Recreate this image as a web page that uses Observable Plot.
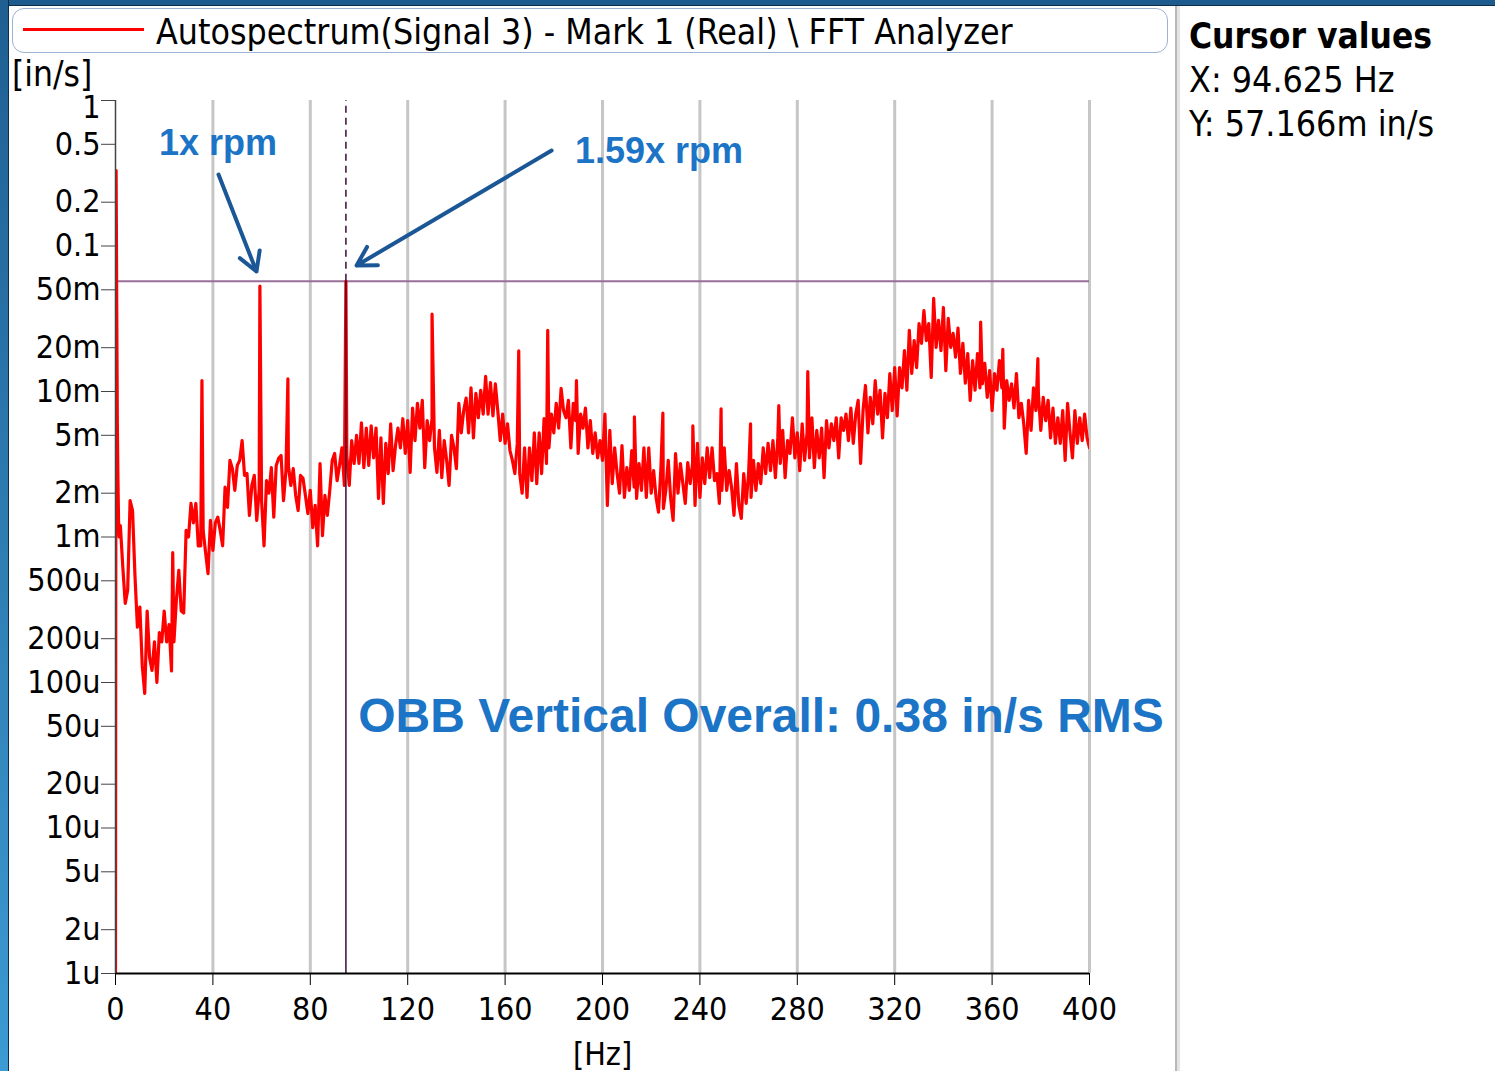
<!DOCTYPE html>
<html><head><meta charset="utf-8">
<script src="https://cdn.jsdelivr.net/npm/d3@7"></script>
<script src="https://cdn.jsdelivr.net/npm/@observablehq/plot@0.6"></script>
<style>
html,body{margin:0;padding:0;background:#fff;}
#page{position:relative;width:1495px;height:1071px;overflow:hidden;background:#fff;font-family:'DejaVu Sans Condensed','DejaVu Sans',sans-serif;font-stretch:condensed;color:#000;}
#chart{position:absolute;left:0;top:0;}
#topbar{position:absolute;left:0;top:0;width:1495px;height:5px;background:#1c5b8b;border-bottom:1px solid #0d2e4a;}
#leftbar{position:absolute;left:0;top:0;width:8px;height:1071px;background:linear-gradient(#1f5f92,#3d9ad2);border-right:1px solid #0d2e4a;}
#legend{position:absolute;left:12px;top:8px;width:1154px;height:43px;border:1px solid #9db3d3;border-radius:12px;background:#fff;}
#swatch{position:absolute;left:10px;top:19px;width:121px;height:3px;background:#ff0000;}
#ltext{position:absolute;left:143px;top:0px;font-size:35.4px;line-height:46px;white-space:pre;}
#sep1{position:absolute;left:1175px;top:6px;width:2px;height:1065px;background:#b8b8b8;}
#sep2{position:absolute;left:1177px;top:6px;width:3px;height:1065px;background:#e4e4e4;}
#cursor{position:absolute;left:1189px;top:14px;font-size:35.5px;line-height:44px;white-space:pre;}
#cursor .h{font-weight:bold;font-size:35px;}
#ylab{position:absolute;left:12px;top:62px;font-size:35px;line-height:24px;}
</style></head><body>
<div id="page">
  <div id="chart"></div>
  <div id="topbar"></div>
  <div id="leftbar"></div>
  <div id="legend"><div id="swatch"></div><div id="ltext">Autospectrum(Signal 3) - Mark 1 (Real) \ FFT Analyzer</div></div>
  <div id="sep1"></div><div id="sep2"></div>
  <div id="cursor"><div class="h">Cursor values</div><div>X: 94.625 Hz</div><div>Y: 57.166m in/s</div></div>
  <div id="ylab">[in/s]</div>
</div>
<script>
const xTicks = [0, 40, 80, 120, 160, 200, 240, 280, 320, 360, 400];
const yTicks = [1, 0.5, 0.2, 0.1, 0.05, 0.02, 0.01, 0.005, 0.002, 0.001, 5e-4, 2e-4, 1e-4, 5e-5, 2e-5, 1e-5, 5e-6, 2e-6, 1e-6];
const yTickLabels = ["1", "0.5", "0.2", "0.1", "50m", "20m", "10m", "5m", "2m", "1m", "500u", "200u", "100u", "50u", "20u", "10u", "5u", "2u", "1u"];

// DC region (Hz) and amplitude in milli in/s
const lowFreq = [0, 0.25, 0.5, 0.75, 1.0, 1.25, 1.5, 1.75];
const lowMilli = [0.001, 330, 40, 6, 2.5, 1.3, 1.0, 1.2];

// Spectrum bins from 2 Hz to 400 Hz, 1 Hz apart, milli in/s
const binStart = 2, binStep = 1;
const spectrumMilli = [
  1.20, 0.62, 0.35, 0.43, 1.78, 1.52, 0.54, 0.24, 0.33, 0.13,
  0.084, 0.31, 0.148, 0.121, 0.19, 0.10, 0.22, 0.19, 0.31, 0.19,
  0.25, 0.12, 0.19, 0.37, 0.59, 0.31, 0.30, 1.11, 1.0, 1.7,
  1.25, 1.7, 0.87, 0.87, 1.11, 0.78, 0.56, 1.30, 0.81, 1.25,
  1.37, 1.11, 0.87, 2.2, 1.6, 3.36, 2.95, 2.09, 3.10, 3.36,
  4.6, 2.65, 2.73, 1.41, 2.26, 2.65, 1.30, 2.09, 1.78, 0.87,
  2.44, 2.0, 3.0, 1.37, 3.10, 3.47, 3.63, 1.78, 2.86, 3.10,
  2.26, 2.95, 1.93, 1.52, 2.65, 2.53, 1.93, 1.45, 2.09, 1.16,
  1.65, 0.87, 3.2, 1.02, 1.93, 1.41, 2.09, 3.36, 3.75, 2.44,
  3.10, 4.1, 2.26, 3.63, 2.26, 4.6, 3.2, 5.0, 3.2, 6.1,
  3.0, 5.6, 3.10, 5.8, 3.5, 5.6, 1.84, 4.8, 1.70, 4.4,
  2.73, 6.0, 2.86, 4.25, 5.6, 4.1, 6.5, 3.75, 6.3, 2.78,
  7.7, 4.6, 8.3, 5.6, 8.7, 3.0, 6.3, 4.6, 6.5, 4.1,
  2.78, 5.4, 2.56, 4.6, 3.36, 2.26, 5.0, 4.1, 2.95, 8.3,
  5.2, 7.4, 9.0, 5.2, 10.6, 4.8, 9.7, 6.6, 10.2, 7.0,
  12.7, 7.0, 11.5, 6.8, 11.3, 7.4, 4.6, 7.0, 4.4, 6.0,
  3.93, 3.36, 2.73, 4.4, 2.73, 2.0, 4.1, 1.87, 4.1, 2.44,
  5.2, 2.33, 5.2, 2.73, 6.5, 3.2, 4.1, 7.0, 5.2, 8.3,
  5.6, 10.5, 7.4, 6.6, 8.7, 4.1, 8.3, 6.3, 3.75, 7.0,
  5.6, 7.7, 4.1, 6.3, 3.75, 5.2, 3.5, 4.6, 3.36, 7.0,
  1.65, 5.4, 2.33, 4.1, 2.73, 2.0, 4.25, 1.87, 3.0, 2.09,
  3.93, 2.2, 1.84, 3.2, 2.09, 4.1, 1.87, 4.1, 2.0, 2.86,
  1.87, 1.48, 3.0, 1.57, 2.09, 3.36, 1.84, 1.30, 3.75, 2.0,
  3.2, 2.33, 1.70, 3.25, 2.33, 3.2, 1.65, 4.4, 1.87, 3.5,
  2.33, 4.1, 2.56, 4.1, 2.44, 2.73, 1.70, 2.09, 4.1, 2.09,
  2.86, 2.2, 1.41, 3.2, 1.65, 1.34, 2.73, 1.70, 2.73, 1.87,
  3.36, 2.09, 3.2, 2.33, 4.1, 2.73, 4.4, 2.86, 4.6, 2.56,
  4.8, 3.2, 5.4, 2.56, 4.6, 3.75, 6.6, 3.5, 5.2, 2.86,
  6.0, 3.36, 5.2, 3.5, 6.6, 3.0, 5.4, 3.5, 5.6, 2.56,
  6.3, 4.1, 6.0, 4.6, 6.6, 3.5, 6.6, 5.4, 7.0, 4.6,
  7.7, 4.4, 7.0, 8.7, 3.2, 7.4, 11.0, 5.2, 9.1, 6.0,
  11.9, 7.0, 10.2, 4.8, 9.7, 6.6, 13.3, 7.4, 14.6, 6.8,
  14.6, 10.6, 19.1, 10.2, 26.3, 13.3, 22.4, 14.6, 29.3, 21.4,
  36.0, 22.4, 29.3, 12.5, 43.6, 20.1, 30.8, 19.1, 37.8, 13.9,
  31.8, 20.1, 25.1, 17.2, 27.3, 13.3, 21.4, 11.4, 18.2, 8.7,
  16.3, 10.2, 18.2, 10.6, 11.3, 15.6, 9.1, 13.9, 7.4, 13.3,
  10.2, 16.3, 10.6, 5.6, 11.9, 8.7, 11.3, 7.7, 13.3, 6.6,
  8.3, 6.0, 3.75, 8.7, 5.4, 10.6, 7.4, 9.7, 5.4, 9.1,
  6.3, 8.7, 4.8, 7.7, 4.4, 6.6, 4.4, 7.4, 3.36, 8.3,
  5.2, 3.5, 7.4, 4.4, 6.6, 4.6, 7.0, 4.8, 4.1
];

// Narrow tonal peaks (Hz) and amplitude in milli in/s
const peakFreq = [23.5, 35.5, 59.3, 70.8, 94.625, 130.0, 165.6, 177.5, 189.3, 213.1, 224.8, 237.1, 248.7, 260.8, 272.4, 284.3, 355.3, 364.4, 378.8];
const peakMilli = [0.78, 11.9, 53, 12.2, 57.166, 34, 19, 26.3, 11.9, 6.7, 7.1, 5.8, 7.6, 6.0, 8.0, 13.7, 30, 19.5, 16.8];

// Cursor
const cursorX = 94.625;
const cursorY = 0.057166;

// Annotations (anchored in data units)
const noteText = ["1x rpm", "1.59x rpm"];
const noteFreq = [42.1, 223.2];
const noteVal = [0.506, 0.446];
const bigNote = "OBB Vertical Overall: 0.38 in/s RMS";
const bigNoteFreq = 265.1;
const bigNoteVal = 5.84e-5;
const arrowFromF = [42.3, 179.1];
const arrowFromV = [0.31, 0.453];
const arrowToF = [57.9, 99.0];
const arrowToV = [0.0668, 0.0734];

const pts = [];
lowFreq.forEach((f, i) => pts.push({f, v: lowMilli[i] / 1000}));
spectrumMilli.forEach((m, i) => pts.push({f: binStart + i * binStep, v: m / 1000}));
peakFreq.forEach((f, i) => pts.push({f, v: peakMilli[i] / 1000}));
pts.sort((a, b) => a.f - b.f);

const fmtY = (v) => yTickLabels[yTicks.indexOf(v)];
const notes = noteText.map((t, i) => ({t, f: noteFreq[i], v: noteVal[i]}));
const arrows = arrowFromF.map((f, i) => ({f1: f, v1: arrowFromV[i], f2: arrowToF[i], v2: arrowToV[i]}));
const annFont = "'Liberation Sans', Arial, sans-serif";
const annColor = "#1c74c6";

const chart = Plot.plot({
  width: 1175,
  height: 1071,
  marginLeft: 115,
  marginRight: 86,
  marginTop: 100,
  marginBottom: 98,
  style: {fontFamily: "'DejaVu Sans Condensed','DejaVu Sans',sans-serif", fontStretch: "condensed", fontSize: "32px", color: "#000", background: "transparent", overflow: "visible", maxWidth: "none"},
  x: {domain: [0, 400]},
  y: {type: "log", domain: [1e-6, 1]},
  marks: [
    Plot.ruleX(xTicks.slice(1), {stroke: "#c6c6c6", strokeWidth: 3}),
    Plot.ruleY([cursorY], {x1: 0, x2: 400, stroke: "#9a6e9a", strokeWidth: 2}),
    Plot.line(pts, {x: "f", y: "v", stroke: "#ff0000", strokeWidth: 3.2, clip: true}),
    Plot.ruleX([cursorX], {y1: 1e-6, y2: cursorY, stroke: "#3a0c3a", strokeWidth: 1.5}),
    Plot.ruleX([cursorX], {y1: cursorY, y2: 1, stroke: "#3a0c3a", strokeWidth: 1.5, strokeDasharray: "7,5"}),
    Plot.ruleY([1e-6], {x1: 0, x2: 400, stroke: "#000", strokeWidth: 2}),
    Plot.ruleX([0], {y1: 1e-6, y2: 1, stroke: "#444", strokeWidth: 1.5}),
    Plot.axisX({ticks: xTicks, tickSize: 12, tickPadding: 12, tickFormat: (d) => String(d), label: "[Hz]", labelAnchor: "center", labelOffset: 91, labelArrow: "none"}),
    Plot.axisY({ticks: yTicks, tickSize: 14, tickFormat: () => "", label: null, stroke: "#444"}),
    Plot.text(yTicks.slice(1), {frameAnchor: "left", y: (d) => d, text: fmtY, dx: -15, textAnchor: "end", lineAnchor: "middle"}),
    Plot.text([1], {frameAnchor: "left", y: (d) => d, text: fmtY, dx: -15, dy: 7, textAnchor: "end", lineAnchor: "middle"}),
    Plot.arrow(arrows, {x1: "f1", y1: "v1", x2: "f2", y2: "v2", stroke: "#1b5796", strokeWidth: 4}),
    Plot.text(notes, {x: "f", y: "v", text: "t", fill: annColor, fontFamily: annFont, fontWeight: "bold", fontSize: 36, textAnchor: "middle", lineAnchor: "middle"}),
    Plot.text([bigNote], {x: bigNoteFreq, y: bigNoteVal, text: (d) => d, fill: annColor, fontFamily: annFont, fontWeight: "bold", fontSize: 48, textAnchor: "middle", lineAnchor: "middle"})
  ]
});
document.getElementById("chart").appendChild(chart);
</script>
</body></html>
